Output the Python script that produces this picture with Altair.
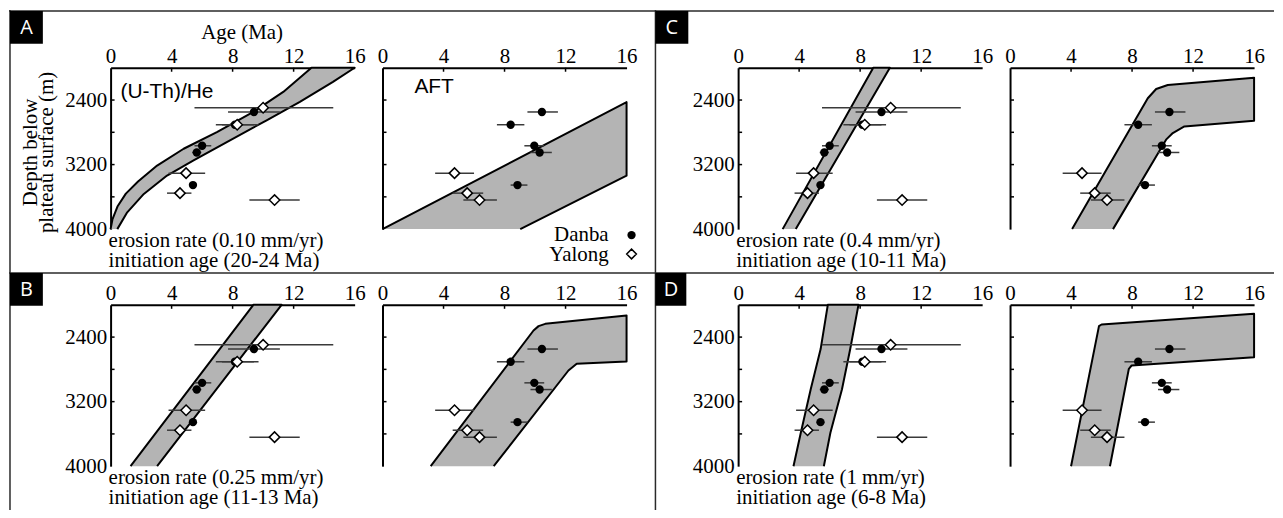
import altair as alt
import pandas as pd

# ---------------- data ----------------
AGE_TICKS = [0, 4, 8, 12, 16]
AGE_INNER_TICKS = [4, 8, 12]
DEPTH_LABELS = [2400, 3200, 4000]
DEPTH_INNER_TICKS = [2400, 2800, 3200, 3600]

# (U-Th)/He ages
danba_depth = [2548, 2706, 2967, 3050, 3454]
danba_he_age = [9.4, 8.15, 6.0, 5.65, 5.4]
danba_he_lo = [7.7, 6.9, 5.5, 5.35, 5.15]
danba_he_hi = [11.1, 9.7, 6.6, 5.95, 5.65]

yalong_depth = [2496, 2706, 3306, 3554, 3640]
yalong_he_age = [10.0, 8.3, 4.95, 4.55, 10.75]
yalong_he_lo = [5.5, 7.3, 3.8, 3.7, 9.1]
yalong_he_hi = [14.6, 9.4, 6.2, 5.3, 12.4]

# AFT ages
danba_aft_age = [10.45, 8.4, 9.95, 10.3, 8.85]
danba_aft_lo = [9.5, 7.5, 9.3, 9.7, 8.4]
danba_aft_hi = [11.5, 9.3, 10.6, 11.1, 9.5]

yalong_aft_depth = [3306, 3554, 3640]
yalong_aft_age = [4.72, 5.55, 6.36]
yalong_aft_lo = [3.45, 4.6, 5.3]
yalong_aft_hi = [6.0, 6.6, 7.5]

# model envelopes (vertices, outline order; bottom edge left open)
band_A_he_age = [0.0, 0.12, 0.45, 1.0, 1.8, 3.05, 4.79, 6.97, 9.36, 11.32, 13.17,
                 16.0, 14.58, 12.41, 10.23, 7.62, 5.44, 3.70, 2.18, 1.09, 0.44]
band_A_he_depth = [4000, 3880, 3720, 3560, 3410, 3212, 3004, 2797, 2548, 2299, 2000,
                   2000, 2174, 2423, 2651, 2921, 3149, 3336, 3564, 3792, 4000]
band_A_aft_age = [0.0, 16.0, 16.0, 9.03]
band_A_aft_depth = [4000, 2426, 3337, 4000]

band_B_he_age = [1.31, 9.36, 11.21, 3.05]
band_B_he_depth = [4000, 2000, 2000, 4000]
band_B_aft_age = [3.16, 9.90, 10.23, 10.67, 16.0, 16.0, 12.73, 12.19, 7.29]
band_B_aft_depth = [4000, 2318, 2264, 2236, 2132, 2702, 2731, 2814, 4000]

band_C_he_age = [2.92, 8.86, 9.95, 3.78]
band_C_he_depth = [4000, 2000, 2000, 4000]
band_C_aft_age = [4.07, 9.03, 9.58, 10.34, 16.0, 16.0, 11.43, 10.67, 10.23, 6.75]
band_C_aft_depth = [4000, 2378, 2263, 2214, 2123, 2657, 2727, 2809, 2891, 4000]

band_D_he_age = [3.63, 4.11, 4.76, 5.41, 5.88, 7.89, 7.35, 6.81, 6.05, 5.62]
band_D_he_depth = [4000, 3585, 3046, 2548, 2000, 2000, 2548, 3046, 3585, 4000]
band_D_aft_age = [4.0, 5.83, 6.0, 16.0, 16.0, 7.97, 7.79, 6.55]
band_D_aft_depth = [4000, 2264, 2244, 2112, 2649, 2752, 2793, 4000]

panel_letters = ["A", "B", "C", "D"]
erosion_text = ["erosion rate (0.10 mm/yr)", "erosion rate (0.25 mm/yr)",
                "erosion rate (0.4 mm/yr)", "erosion rate (1 mm/yr)"]
initiation_text = ["initiation age (20-24 Ma)", "initiation age (11-13 Ma)",
                   "initiation age (10-11 Ma)", "initiation age (6-8 Ma)"]

# ---------------- styling ----------------
W, H = 245, 162
GAP_X, GAP_Y = 28, 76
SPACER_W = 56
OX, OY = 110, 66            # page position of panel A (U-Th)/He plot
SERIF = "Liberation Serif"
SANS = "Liberation Sans"
GRAY = "#b4b4b4"
INK = "black"
BAR = "#3a3a3a"
LINE = "#2a2a2a"
TXT = 21
TICKTXT = 21

one = pd.DataFrame({"k": [0]})
xscale = alt.Scale(domain=[0, 16], nice=False, zero=False)
yscale = alt.Scale(domain=[2000, 4000], reverse=True, nice=False, zero=False)


def X(field):
    return alt.X(f"{field}:Q", scale=xscale,
                 axis=alt.Axis(orient="top", values=AGE_TICKS, title=None, format="d",
                               labelFont=SERIF, labelFontSize=TICKTXT, labelColor=INK,
                               labelFlush=False, labelPadding=1, ticks=False, grid=False,
                               domainColor=INK, domainWidth=2))


def Y(field, labels):
    return alt.Y(f"{field}:Q", scale=yscale,
                 axis=alt.Axis(values=DEPTH_LABELS, labels=labels, title=None, format="d",
                               labelFont=SERIF, labelFontSize=TICKTXT, labelColor=INK,
                               labelFlush=False, labelPadding=4, ticks=False, grid=False,
                               domainColor=INK, domainWidth=2))


def txt(s, x, y, size=TXT, font=SERIF, align="left", baseline="alphabetic",
        color=INK, angle=None):
    kw = dict(font=font, fontSize=size, align=align, baseline=baseline, color=color)
    if angle is not None:
        kw["angle"] = angle
    return alt.Chart(one).mark_text(**kw).encode(
        x=alt.value(x), y=alt.value(y), text=alt.value(s))


def hline(x1, x2, y, w=1.5):
    return alt.Chart(one).mark_rule(color=LINE, strokeWidth=w).encode(
        x=alt.value(x1), x2=alt.value(x2), y=alt.value(y))


def vline(x, y1, y2, w=1.5):
    return alt.Chart(one).mark_rule(color=LINE, strokeWidth=w).encode(
        x=alt.value(x), y=alt.value(y1), y2=alt.value(y2))


def letter_box(letter, x1, x2, y1, y2):
    box = alt.Chart(one).mark_rect(color=INK).encode(
        x=alt.value(x1), x2=alt.value(x2), y=alt.value(y1), y2=alt.value(y2))
    lab = txt(letter, (x1 + x2) / 2, (y1 + y2) / 2 + 1, size=20, font="Open Sans",
              align="center", baseline="middle", color="white")
    return [box, lab]


def band_layers(age, depth, ylab):
    df = pd.DataFrame({"age": age, "depth": depth, "i": list(range(len(age)))})
    fill = alt.Chart(df).mark_line(filled=True, color=GRAY).encode(
        x=X("age"), y=Y("depth", ylab), order=alt.Order("i:Q"))
    edge = alt.Chart(df).mark_line(color=INK, strokeWidth=2, strokeJoin="round").encode(
        x=X("age"), y=Y("depth", ylab), order=alt.Order("i:Q"))
    return [fill, edge]


def tick_layers(ylab):
    xt = alt.Chart(pd.DataFrame({"age": AGE_INNER_TICKS})).mark_rule(
        color=INK, strokeWidth=1.5).encode(x=X("age"), y=alt.value(0), y2=alt.value(4))
    yt = alt.Chart(pd.DataFrame({"depth": DEPTH_INNER_TICKS})).mark_rule(
        color=INK, strokeWidth=1.5).encode(y=Y("depth", ylab), x=alt.value(0), x2=alt.value(4))
    return [xt, yt]


def err_layer(depth, lo, hi, ylab):
    df = pd.DataFrame({"depth": depth, "lo": lo, "hi": hi})
    return alt.Chart(df).mark_rule(color=BAR, strokeWidth=1.5).encode(
        x=X("lo"), x2="hi:Q", y=Y("depth", ylab))


def danba_layer(depth, age, ylab):
    df = pd.DataFrame({"depth": depth, "age": age})
    return alt.Chart(df).mark_point(shape="circle", filled=True, color=INK,
                                    size=70, opacity=1).encode(
        x=X("age"), y=Y("depth", ylab))


def yalong_layer(depth, age, ylab):
    df = pd.DataFrame({"depth": depth, "age": age})
    return alt.Chart(df).mark_point(shape="diamond", fill="white", stroke=INK,
                                    strokeWidth=1.5, size=110, opacity=1).encode(
        x=X("age"), y=Y("depth", ylab))


def he_plot(band, idx, extra):
    layers = band_layers(*band, True) + tick_layers(True) + [
        err_layer(danba_depth, danba_he_lo, danba_he_hi, True),
        err_layer(yalong_depth, yalong_he_lo, yalong_he_hi, True),
        danba_layer(danba_depth, danba_he_age, True),
        yalong_layer(yalong_depth, yalong_he_age, True),
        txt(erosion_text[idx], -2, 180),
        txt(initiation_text[idx], -2, 200),
    ] + extra
    return alt.layer(*layers).properties(width=W, height=H)


def aft_plot(band, extra):
    layers = band_layers(*band, False) + tick_layers(False) + [
        err_layer(danba_depth, danba_aft_lo, danba_aft_hi, False),
        err_layer(yalong_aft_depth, yalong_aft_lo, yalong_aft_hi, False),
        danba_layer(danba_depth, danba_aft_age, False),
        yalong_layer(yalong_aft_depth, yalong_aft_age, False),
    ] + extra
    return alt.layer(*layers).properties(width=W, height=H)


def spacer(extra):
    return alt.layer(*extra).properties(width=SPACER_W, height=H)


# ---- panel A: frame, titles, labels ----
frame = [
    hline(8 - OX, 1278 - OX, 9 - OY),
    vline(9 - OX, 8 - OY, 510 - OY),
    hline(8 - OX, 1278 - OX, 272 - OY),
    vline(657 - OX, 8 - OY, 510 - OY),
]
extra_A = frame + letter_box(panel_letters[0], -101, -68, -57, -24) + [
    txt("(U-Th)/He", 10, 30, size=21, font=SANS),
    txt("Age (Ma)", 132, -29, align="center"),
    txt("Depth below", -80, 85, align="center", baseline="middle", angle=270),
    txt("plateau surface (m)", -64, 85, align="center", baseline="middle", angle=270),
]
legend_A = [
    txt("AFT", 32, 25, size=21, font=SANS),
    txt("Danba", 227, 174, align="right"),
    txt("Yalong", 227, 194, align="right"),
    alt.Chart(one).mark_point(shape="circle", filled=True, color=INK, size=70, opacity=1).encode(
        x=alt.value(250), y=alt.value(168)),
    alt.Chart(one).mark_point(shape="diamond", fill="white", stroke=INK, strokeWidth=1.5,
                              size=95, opacity=1).encode(x=alt.value(250), y=alt.value(187)),
]

heA = he_plot((band_A_he_age, band_A_he_depth), 0, extra_A)
aftA = aft_plot((band_A_aft_age, band_A_aft_depth), legend_A)
spC = spacer(letter_box(panel_letters[2], 1, 34, -57, -24))
heC = he_plot((band_C_he_age, band_C_he_depth), 2, [])
aftC = aft_plot((band_C_aft_age, band_C_aft_depth), [])

heB = he_plot((band_B_he_age, band_B_he_depth), 1, letter_box(panel_letters[1], -101, -68, -32, 1))
aftB = aft_plot((band_B_aft_age, band_B_aft_depth), [])
spD = spacer(letter_box(panel_letters[3], 1, 32, -32, 1))
heD = he_plot((band_D_he_age, band_D_he_depth), 3, [])
aftD = aft_plot((band_D_aft_age, band_D_aft_depth), [])

chart = alt.concat(
    heA, aftA, spC, heC, aftC,
    heB, aftB, spD, heD, aftD,
    columns=5,
    spacing=alt.RowColnumber(row=GAP_Y, column=GAP_X),
    bounds="flush",
).properties(padding=0).configure(font=SERIF).configure_view(strokeOpacity=0).configure_axis(
    labelFont=SERIF, labelFontSize=TICKTXT, labelColor=INK
)

chart.save("out.html", embed_options={"renderer": "svg", "actions": False})
